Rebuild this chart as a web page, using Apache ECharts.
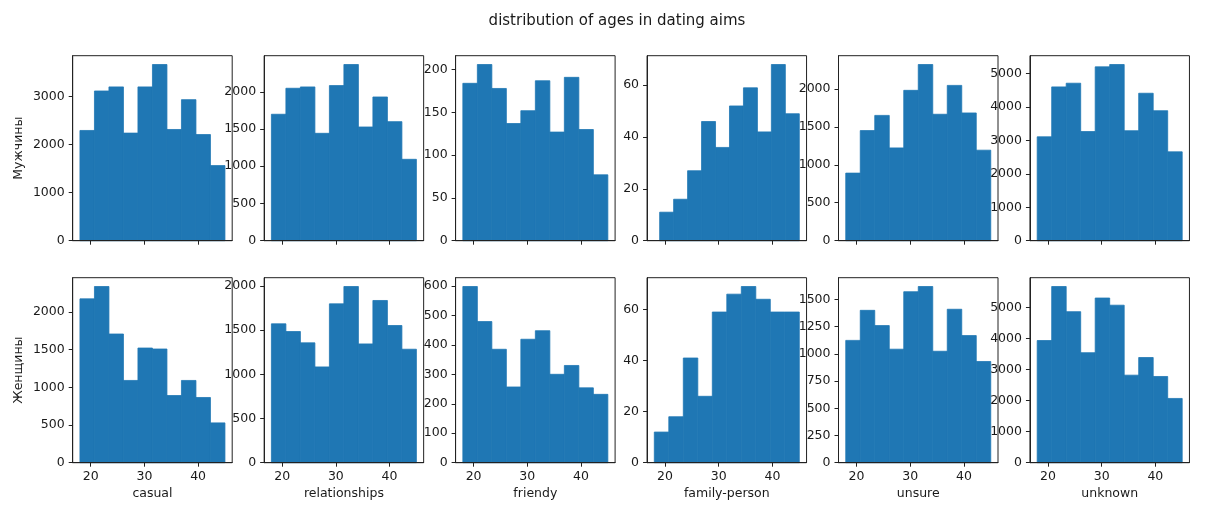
<!DOCTYPE html>
<html>
<head>
<meta charset="utf-8">
<script src="https://cdn.jsdelivr.net/npm/echarts@6/dist/echarts.min.js"></script>
<style>
html,body{margin:0;padding:0;background:#fff;}
#chart{width:1205px;height:515px;}
</style>
</head>
<body>
<div id="chart"></div>
<script>
// ---- data ----
const chartTitle = 'distribution of ages in dating aims';
const categories = ['casual', 'relationships', 'friendy', 'family-person', 'unsure', 'unknown'];
const rowLabels = ['Мужчины', 'Женщины'];

// histogram bin edges (ages)
const binEdges = [18, 20.7, 23.4, 26.1, 28.8, 31.5, 34.2, 36.9, 39.6, 42.3, 45];
const binEdgesFamilyMen = [19, 21.6, 24.2, 26.8, 29.4, 32, 34.6, 37.2, 39.8, 42.4, 45];

// men (top row)
const menCasual        = [2290, 3110, 3195, 2235, 3195, 3660, 2310, 2930, 2205, 1560];
const menRelationships = [1698, 2047, 2065, 1442, 2083, 2366, 1527, 1930, 1599, 1093];
const menFriendy       = [184, 206, 178, 137, 152, 187, 127, 191, 130, 77];
const menFamily        = [11, 16, 27, 46, 36, 52, 59, 42, 68, 49];
const menUnsure        = [890, 1450, 1650, 1222, 1980, 2320, 1665, 2045, 1682, 1192];
const menUnknown       = [3110, 4605, 4715, 3268, 5205, 5275, 3293, 4415, 3892, 2660];

// women (bottom row)
const womenCasual        = [2173, 2337, 1707, 1091, 1521, 1508, 891, 1091, 865, 528];
const womenRelationships = [1570, 1483, 1355, 1083, 1796, 1992, 1343, 1834, 1551, 1283];
const womenFriendy       = [598, 479, 385, 257, 419, 448, 300, 330, 254, 232];
const womenFamily        = [12, 18, 41, 26, 59, 66, 69, 64, 59, 59];
const womenUnsure        = [1124, 1400, 1260, 1043, 1571, 1619, 1024, 1410, 1168, 930];
const womenUnknown       = [3936, 5676, 4865, 3544, 5305, 5074, 2820, 3389, 2777, 2070];

// tick labels
const xTicks = [20, 30, 40];
const yTicksMen = [
  [0, 1000, 2000, 3000],
  [0, 500, 1000, 1500, 2000],
  [0, 50, 100, 150, 200],
  [0, 20, 40, 60],
  [0, 500, 1000, 1500, 2000],
  [0, 1000, 2000, 3000, 4000, 5000]
];
const yTicksWomen = [
  [0, 500, 1000, 1500, 2000],
  [0, 500, 1000, 1500, 2000],
  [0, 100, 200, 300, 400, 500, 600],
  [0, 20, 40, 60],
  [0, 250, 500, 750, 1000, 1250, 1500],
  [0, 1000, 2000, 3000, 4000, 5000]
];

// ---- build ----
const rows = [
  { values: [menCasual, menRelationships, menFriendy, menFamily, menUnsure, menUnknown],
    edges: [binEdges, binEdges, binEdges, binEdgesFamilyMen, binEdges, binEdges],
    ticks: yTicksMen },
  { values: [womenCasual, womenRelationships, womenFriendy, womenFamily, womenUnsure, womenUnknown],
    edges: [binEdges, binEdges, binEdges, binEdges, binEdges, binEdges],
    ticks: yTicksWomen }
];

const FONT = 'DejaVu Sans';
const TXT = '#1a1a1a';
const BAR = '#1f77b4';
const gridLeft0 = 72.7, colStep = 191.45, gridW = 159.5;
const rowTops = [55.7, 277.7], gridH = 185;
const xMin = 16.65, xMax = 46.35;

const grids = [], xAxes = [], yAxes = [], series = [];
const plain = v => String(v);

function renderBar(params, api) {
  const p0 = api.coord([api.value(0), 0]);
  const p1 = api.coord([api.value(1), api.value(2)]);
  return {
    type: 'rect',
    shape: { x: p0[0], y: p1[1], width: p1[0] - p0[0], height: p0[1] - p1[1] },
    style: { fill: BAR, stroke: BAR, lineWidth: 0.8 }
  };
}

rows.forEach((row, r) => {
  row.values.forEach((vals, c) => {
    const idx = grids.length;
    grids.push({
      left: gridLeft0 + c * colStep, top: rowTops[r], width: gridW, height: gridH,
      show: true, borderColor: '#222', borderWidth: 1, backgroundColor: 'transparent'
    });
    xAxes.push({
      type: 'value', gridIndex: idx, min: xMin, max: xMax, z: 5,
      axisLine: { show: true, onZero: false, lineStyle: { color: '#222', width: 1 } },
      axisTick: { show: true, length: 4, customValues: xTicks, lineStyle: { color: '#222' } },
      axisLabel: { show: r === 1, customValues: xTicks, margin: 8, formatter: plain,
                   fontFamily: FONT, fontSize: 12.5, color: TXT },
      splitLine: { show: false },
      name: r === 1 ? categories[c] : '',
      nameLocation: 'middle', nameGap: 25,
      nameTextStyle: { fontFamily: FONT, fontSize: 12.5, color: TXT }
    });
    const ymax = Math.max(...vals) * 1.05;
    yAxes.push({
      type: 'value', gridIndex: idx, min: 0, max: ymax, z: 5,
      axisLine: { show: true, onZero: false, lineStyle: { color: '#222', width: 1 } },
      axisTick: { show: true, length: 4, customValues: row.ticks[c], lineStyle: { color: '#222' } },
      axisLabel: { show: true, customValues: row.ticks[c], margin: 8, formatter: plain,
                   fontFamily: FONT, fontSize: 12.5, color: TXT },
      splitLine: { show: false },
      name: c === 0 ? rowLabels[r] : '',
      nameLocation: 'middle', nameGap: 47, nameRotate: 90,
      nameTextStyle: { fontFamily: FONT, fontSize: 12.5, color: TXT }
    });
    const edges = row.edges[c];
    series.push({
      type: 'custom', xAxisIndex: idx, yAxisIndex: idx,
      renderItem: renderBar,
      encode: { x: [0, 1], y: 2 },
      data: vals.map((v, i) => [edges[i], edges[i + 1], v]),
      silent: true
    });
  });
});

const chart = echarts.init(document.getElementById('chart'), null, { renderer: 'canvas' });
chart.setOption({
  backgroundColor: '#ffffff',
  animation: false,
  title: {
    text: chartTitle, left: 612, top: 9, textAlign: 'center',
    textStyle: { fontFamily: FONT, fontSize: 15, fontWeight: 'normal', color: TXT }
  },
  grid: grids,
  xAxis: xAxes,
  yAxis: yAxes,
  series: series
});
</script>
</body>
</html>
